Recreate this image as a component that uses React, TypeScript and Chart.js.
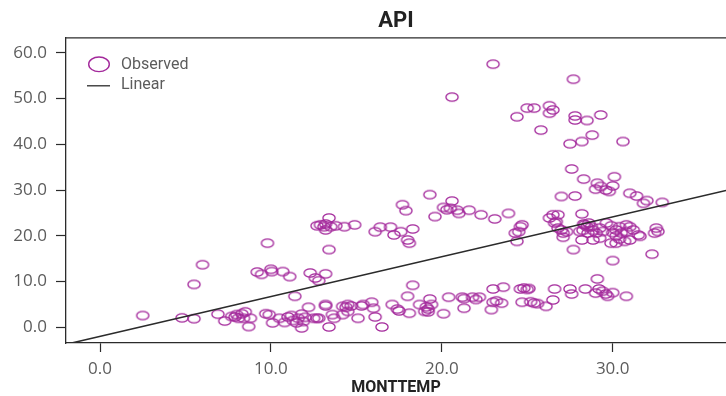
import React, { useEffect, useRef } from "react";
import { Chart, registerables } from "chart.js";

Chart.register(...registerables);

// ---- data ----
const obsTemp: number[] = [
  23.0, 27.7, 20.6, 25.0, 25.4, 26.3, 26.5, 26.3, 24.4, 27.8, 27.8, 28.5, 29.3, 25.8, 28.8, 28.2, 27.5, 30.6,
  27.6, 28.3, 29.1, 29.3, 29.0, 29.6, 30.1, 30.0, 29.8, 27.0, 27.8, 31.0, 31.4, 31.8, 32.0, 32.9, 19.3,
  17.7, 17.9, 19.6, 20.1, 20.3, 20.5, 20.6, 20.9, 21.0, 21.6, 22.3, 23.1, 23.9, 24.7, 24.6, 24.5, 24.4, 24.3,
  26.3, 26.5, 26.7, 26.8, 26.8, 26.6, 27.1, 27.0, 27.3, 27.1, 28.2, 28.3, 28.5, 28.07, 28.26, 28.36, 28.55, 28.75,
  28.85, 29.04, 29.24, 29.43, 29.63, 29.92, 30.0, 30.2, 30.4, 30.5, 30.8, 31.0, 31.2, 31.5, 30.2, 30.4, 30.7, 31.0,
  30.2, 29.9, 28.85, 28.2, 29.24, 32.55, 32.65, 32.45, 27.7, 30.0, 32.3, 30.8, 31.6, 28.6,
  13.4, 12.9, 13.1, 13.2, 13.2, 12.7, 13.5, 13.8, 14.3, 14.9, 16.1, 16.4, 17.0, 17.2, 17.6, 18.3, 18.0, 18.1,
  9.8, 13.4, 6.0, 5.5,
  9.2, 9.45, 10.0, 10.05, 10.7, 11.1, 12.3, 12.6, 13.2, 12.8, 11.4,
  2.5, 4.8, 5.5, 6.9, 7.3, 7.7, 7.9, 8.0, 8.3, 8.1, 8.4, 8.5, 8.8, 8.7, 9.7, 9.9, 10.1, 10.5, 10.8, 11.0,
  11.2, 11.3, 11.5, 11.6, 11.8, 11.9, 11.8, 12.0, 12.2, 12.5, 12.8, 13.2, 13.4, 13.6, 13.7, 14.2, 14.5, 14.4,
  14.7, 15.1, 15.3, 15.9, 16.0, 16.1, 16.5, 17.1, 17.4, 17.5, 18.1, 18.0, 18.3, 18.7, 19.0, 19.3, 19.1, 19.2,
  19.4, 19.2, 20.1, 20.4, 21.2, 21.3, 21.3, 21.8, 22.0, 22.2, 23.0, 23.6, 23.0, 23.2, 22.9, 23.5, 24.6, 24.8,
  25.0, 25.1, 24.7, 25.2, 25.4, 25.6, 26.1, 26.5, 26.6, 27.5, 27.6, 28.4, 29.1, 29.0, 29.2, 29.4, 29.6, 29.7,
  30.0, 30.8, 14.5, 14.2, 15.4, 12.7, 13.2,
];
const obsApi: number[] = [
  57.5, 54.2, 50.3, 47.9, 47.9, 48.4, 47.5, 46.8, 46.0, 46.2, 45.3, 45.2, 46.4, 43.1, 42.0, 40.6, 40.1, 40.6,
  34.6, 32.4, 31.5, 30.8, 30.2, 30.0, 32.9, 30.9, 29.7, 28.6, 28.7, 29.3, 28.7, 27.1, 27.7, 27.3, 29.0,
  26.8, 25.5, 24.2, 26.2, 25.7, 26.0, 27.6, 25.6, 24.9, 25.6, 24.6, 23.7, 24.9, 22.4, 22.0, 20.9, 18.8, 20.6,
  23.9, 24.6, 23.1, 24.6, 21.7, 22.8, 20.6, 21.3, 20.9, 19.7, 24.8, 22.6, 22.0, 20.95, 21.2, 22.4, 20.6, 22.0,
  21.2, 20.6, 21.7, 20.95, 22.8, 22.2, 20.7, 21.3, 22.0, 20.6, 20.95, 22.0, 21.3, 20.2, 20.0, 19.3, 18.8, 19.1,
  18.4, 18.4, 19.1, 19.1, 19.5, 21.7, 20.95, 20.6, 17.0, 14.6, 16.0, 22.4, 19.9, 22.8,
  23.9, 22.4, 22.0, 22.6, 21.3, 22.2, 22.0, 22.2, 22.0, 22.4, 20.9, 21.9, 21.9, 20.2, 20.9, 21.5, 19.1, 18.4,
  18.4, 17.0, 13.7, 9.4,
  12.1, 11.6, 12.7, 12.2, 12.2, 11.1, 11.9, 10.8, 11.7, 10.2, 6.8,
  2.6, 2.1, 1.9, 2.9, 1.4, 2.4, 2.3, 2.8, 3.0, 2.0, 2.0, 3.4, 2.0, 0.2, 3.0, 2.8, 1.0, 2.0, 1.1, 2.3,
  2.6, 1.5, 1.0, 2.0, 2.9, 1.3, -0.1, 2.2, 4.4, 2.0, 2.0, 4.7, 0.1, 2.8, 2.0, 2.8, 3.5, 4.4,
  4.7, 2.0, 4.7, 5.5, 4.2, 2.3, 0.1, 5.0, 4.0, 3.6, 3.1, 6.8, 9.2, 5.0, 3.5, 6.2, 4.5, 3.4,
  5.0, 4.0, 3.0, 6.6, 6.6, 6.3, 4.2, 6.6, 6.1, 6.6, 8.4, 8.8, 5.5, 5.8, 3.9, 5.3, 8.4, 8.6,
  8.3, 8.5, 5.5, 5.6, 5.3, 5.2, 4.6, 6.0, 8.4, 8.4, 7.3, 8.4, 10.6, 7.5, 8.4, 7.9, 7.3, 6.8,
  7.6, 6.8, 5.0, 4.6, 5.0, 2.0, 5.0,
];
// Linear fit line end points
const fitTemp: number[] = [-1.6, 36.63];
const fitApi: number[] = [-3.34, 29.9];

const xTicks: number[] = [0, 10, 20, 30];
const yTicks: number[] = [0, 10, 20, 30, 40, 50, 60];
const seriesLabels: string[] = ["Observed", "Linear"];
const chartTitle = "API";
const xTitle = "MONTTEMP";

const PURPLE = "#a3289b";
const DARK = "#2b2b2b";
const TICKCOL = "#5c5c5c";
const NARROW = "Roboto, 'Noto Sans', sans-serif";
const TICKFONT = "'Open Sans', 'Noto Sans', sans-serif";

function makeEllipse(w: number, h: number, rx: number, ry: number, lw: number): HTMLCanvasElement {
  const c = document.createElement("canvas");
  c.width = w;
  c.height = h;
  const g = c.getContext("2d")!;
  g.strokeStyle = PURPLE;
  g.lineWidth = lw;
  g.beginPath();
  g.ellipse(w / 2, h / 2, rx, ry, 0, 0, Math.PI * 2);
  g.stroke();
  return c;
}

export default function App() {
  const ref = useRef<HTMLCanvasElement | null>(null);

  useEffect(() => {
    document.body.style.margin = "0";
    const canvas = ref.current!;
    const pointImg = makeEllipse(16, 12, 6.1, 4.2, 1.3);

    const framePlugin = {
      id: "frameLegend",
      afterDraw(chart: any) {
        const { ctx, chartArea } = chart;
        ctx.save();
        // top frame line
        ctx.strokeStyle = DARK;
        ctx.lineWidth = 1.3;
        ctx.beginPath();
        ctx.moveTo(chartArea.left, chartArea.top + 0.5);
        ctx.lineTo(chartArea.right, chartArea.top + 0.5);
        ctx.stroke();
        // legend
        const lx = chartArea.left + 33;
        const ly1 = chartArea.top + 27;
        const ly2 = chartArea.top + 48.5;
        ctx.strokeStyle = PURPLE;
        ctx.lineWidth = 1.4;
        ctx.beginPath();
        ctx.ellipse(lx, ly1, 10.3, 7.3, 0, 0, Math.PI * 2);
        ctx.stroke();
        ctx.strokeStyle = DARK;
        ctx.lineWidth = 1.3;
        ctx.beginPath();
        ctx.moveTo(lx - 12, ly2);
        ctx.lineTo(lx + 11, ly2);
        ctx.stroke();
        ctx.fillStyle = TICKCOL;
        ctx.font = `16px ${NARROW}`;
        ctx.textBaseline = "middle";
        ctx.textAlign = "left";
        ctx.fillText(chart.data.datasets[0].label, lx + 22, ly1 + 1);
        ctx.fillText(chart.data.datasets[1].label, lx + 22, ly2 - 0.5);
        ctx.restore();
      },
    };

    const chart = new Chart(canvas, {
      type: "scatter",
      data: {
        datasets: [
          {
            type: "scatter",
            label: seriesLabels[0],
            data: obsTemp.map((x, i) => ({ x, y: obsApi[i] })),
            pointStyle: pointImg as any,
            pointRadius: 6,
            order: 2,
          },
          {
            type: "line",
            label: seriesLabels[1],
            data: fitTemp.map((x, i) => ({ x, y: fitApi[i] })),
            borderColor: DARK,
            borderWidth: 1.6,
            pointRadius: 0,
            showLine: true,
            fill: false,
            order: 1,
          } as any,
        ],
      },
      options: {
        animation: false,
        responsive: false,
        maintainAspectRatio: false,
        events: [],
        layout: { padding: 0, autoPadding: false },
        plugins: {
          legend: { display: false },
          tooltip: { enabled: false },
          title: {
            display: true,
            text: chartTitle,
            fullSize: false,
            color: "#222",
            font: { family: NARROW, size: 22, weight: "bold", lineHeight: 1.2 },
            padding: { top: 8, bottom: 2.9 },
          },
        },
        scales: {
          x: {
            type: "linear",
            min: -1.99,
            max: 36.63,
            afterBuildTicks: (s: any) => {
              s.ticks = xTicks.map((v) => ({ value: v }));
            },
            afterFit: (s: any) => {
              s.height = 53;
              s.paddingLeft = 0;
              s.paddingRight = 0;
            },
            grid: { drawOnChartArea: false, drawTicks: true, tickLength: 9, tickColor: DARK, tickWidth: 1.2 },
            border: { display: true, color: DARK, width: 1.3 },
            ticks: {
              callback: (v: any) => Number(v).toFixed(1),
              color: TICKCOL,
              font: { family: TICKFONT, size: 17 },
              padding: 7,
              maxRotation: 0,
              autoSkip: false,
            },
            title: {
              display: true,
              text: xTitle,
              color: "#222",
              font: { family: NARROW, size: 16, weight: "bold", lineHeight: 1 },
              padding: { top: 0, bottom: 0 },
            },
          },
          y: {
            type: "linear",
            min: -3.4,
            max: 63.36,
            afterBuildTicks: (s: any) => {
              s.ticks = yTicks.map((v) => ({ value: v }));
            },
            afterFit: (s: any) => {
              s.width = 66;
              s.paddingTop = 0;
              s.paddingBottom = 0;
            },
            grid: { drawOnChartArea: false, drawTicks: true, tickLength: 10, tickColor: DARK, tickWidth: 1.2 },
            border: { display: true, color: DARK, width: 1.3 },
            ticks: {
              callback: (v: any) => Number(v).toFixed(1),
              color: TICKCOL,
              font: { family: TICKFONT, size: 17 },
              padding: 9,
              autoSkip: false,
            },
          },
        },
      },
      plugins: [framePlugin],
    });

    return () => chart.destroy();
  }, []);

  return (
    <div style={{ position: "absolute", left: 0, top: 0, width: 726, height: 396 }}>
      <canvas ref={ref} width={726} height={396} style={{ display: "block", width: 726, height: 396 }} />
    </div>
  );
}
